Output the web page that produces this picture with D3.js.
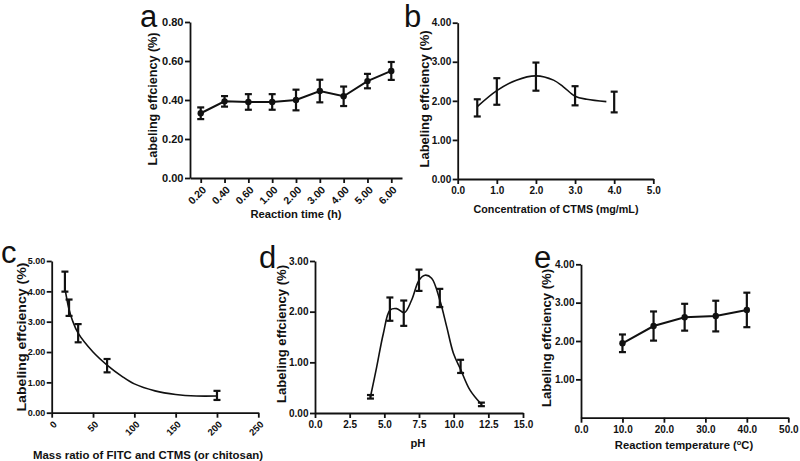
<!DOCTYPE html>
<html><head><meta charset="utf-8">
<script src="https://cdn.jsdelivr.net/npm/d3@7"></script>
<style>
body{margin:0;background:#fff}
svg text{font-family:"Liberation Sans",Arial,Helvetica,sans-serif;fill:#111}
</style>
</head><body>
<svg id="chart" width="800" height="461"></svg>
<script>
// ---------- Panel a : reaction time ----------
const timeCategories = ["0.20","0.40","0.60","1.00","2.00","3.00","4.00","5.00","6.00"];
const timeMeans      = [0.332,0.393,0.390,0.390,0.400,0.446,0.419,0.497,0.549];
const timeErrors     = [0.030,0.027,0.040,0.040,0.053,0.058,0.050,0.037,0.046];
const aYTicks        = [0,0.2,0.4,0.6,0.8];

// ---------- Panel b : CTMS concentration ----------
const concX      = [0.5,1.0,2.0,3.0,4.0];
const concMeans  = [1.82,2.24,2.62,2.13,1.97];
const concErrors = [0.22,0.34,0.36,0.245,0.265];
const concFitX   = [0.5,1.0,1.5,2.0,2.45,2.7,3.0,3.3,3.8];
const concFitY   = [1.85,2.26,2.53,2.64,2.53,2.36,2.12,2.04,1.98];
const bXTicks    = [0,1,2,3,4,5];
const bYTicks    = [0,1,2,3,4];

// ---------- Panel c : mass ratio ----------
const ratioX      = [16,21,32,67,200];
const ratioMeans  = [4.32,3.46,2.62,1.55,0.57];
const ratioErrors = [0.33,0.27,0.30,0.22,0.15];
const ratioFitX   = [16,21,25,32,50,67,85,100,125,150,175,200];
const ratioFitY   = [4.10,3.40,3.05,2.62,2.00,1.57,1.20,0.95,0.72,0.60,0.55,0.55];
const cXTicks     = [0,50,100,150,200,250];
const cYTicks     = [0,1,2,3,4,5];

// ---------- Panel d : pH ----------
const phX      = [4.0,5.4,6.4,7.5,9.0,10.5,12.0];
const phMeans  = [0.32,2.05,1.97,2.62,2.27,0.92,0.17];
const phErrors = [0.035,0.23,0.25,0.21,0.18,0.13,0.035];
const phFitX   = [4.0,4.45,4.93,5.41,5.89,6.44,6.97,7.5,7.93,8.41,9.0,9.5,9.98,10.5,11.18,11.97];
const phFitY   = [0.32,0.91,1.57,2.03,2.06,1.98,2.23,2.62,2.72,2.66,2.23,1.70,1.18,0.86,0.45,0.18];
const dXTicks  = [0,2.5,5,7.5,10,12.5,15];
const dYTicks  = [0,1,2,3];

// ---------- Panel e : temperature ----------
const tempX      = [10,17.5,25,32.5,40];
const tempMeans  = [1.94,2.39,2.62,2.65,2.81];
const tempErrors = [0.23,0.38,0.35,0.40,0.45];
const eXTicks    = [0,10,20,30,40,50];
const eYTicks    = [1,2,3,4];

const yTitleText = "Labeling effciency (%)";

const svg = d3.select("#chart");
const AXW = 1.8;

function yAxis(scale, xPos, ticks, fmt, fs){
  const g = svg.append("g").attr("transform",`translate(${xPos},0)`)
    .call(d3.axisLeft(scale).tickValues(ticks).tickFormat(fmt).tickSize(5).tickSizeOuter(0).tickPadding(1.5));
  g.select(".domain").attr("stroke","#111").attr("stroke-width",AXW);
  g.selectAll(".tick line").attr("stroke","#111").attr("stroke-width",AXW);
  g.selectAll(".tick text").attr("font-size",fs).attr("font-weight","bold").attr("fill","#111");
  return g;
}
function xAxis(scale, yPos, ticks, fmt, fs, rotate){
  const ax = d3.axisBottom(scale).tickSize(5).tickSizeOuter(0).tickPadding(3);
  if (ticks) ax.tickValues(ticks);
  if (fmt) ax.tickFormat(fmt);
  const g = svg.append("g").attr("transform",`translate(0,${yPos})`).call(ax);
  g.select(".domain").attr("stroke","#111").attr("stroke-width",AXW);
  g.selectAll(".tick line").attr("stroke","#111").attr("stroke-width",AXW);
  const t = g.selectAll(".tick text").attr("font-size",fs).attr("font-weight","bold").attr("fill","#111");
  if (rotate){
    t.attr("y",null).attr("x",null).attr("dy","0.35em")
     .attr("text-anchor","end").attr("transform","translate(3,10) rotate(-45)");
  }
  return g;
}
function errorBars(xs, means, errs, x, y, cap){
  const g = svg.append("g").attr("stroke","#111").attr("stroke-width",2.2).attr("fill","none");
  xs.forEach((xv,i)=>{
    const px = x(xv), top = y(means[i]+errs[i]), bot = y(means[i]-errs[i]);
    g.append("line").attr("x1",px).attr("x2",px).attr("y1",top).attr("y2",bot);
    g.append("line").attr("x1",px-cap).attr("x2",px+cap).attr("y1",top).attr("y2",top);
    g.append("line").attr("x1",px-cap).attr("x2",px+cap).attr("y1",bot).attr("y2",bot);
  });
}
function curve(xs, ys, x, y, smooth, w){
  const pts = xs.map((d,i)=>[d,ys[i]]);
  svg.append("path").datum(pts)
    .attr("d", d3.line().x(d=>x(d[0])).y(d=>y(d[1])).curve(smooth ? d3.curveCatmullRom.alpha(0.5) : d3.curveLinear))
    .attr("fill","none").attr("stroke","#111").attr("stroke-width",w);
}
function dots(xs, ys, x, y){
  svg.append("g").selectAll("circle").data(xs).join("circle")
    .attr("cx",d=>x(d)).attr("cy",(d,i)=>y(ys[i])).attr("r",3.2).attr("fill","#111");
}
function yTitle(cx, cy, fs, len){
  svg.append("text").attr("transform",`translate(${cx},${cy}) rotate(-90)`)
    .attr("text-anchor","middle").attr("dominant-baseline","central")
    .attr("font-size",fs).attr("font-weight","bold")
    .attr("textLength",len).attr("lengthAdjust","spacingAndGlyphs").text(yTitleText);
}
function xTitle(cx, by, fs, txt, len){
  const t = svg.append("text").attr("x",cx).attr("y",by).attr("text-anchor","middle")
    .attr("font-size",fs).attr("font-weight","bold").text(txt);
  if (len) t.attr("textLength",len).attr("lengthAdjust","spacingAndGlyphs");
  return t;
}
function panelLabel(x, y, txt){
  svg.append("text").attr("x",x).attr("y",y).attr("font-size",31).attr("font-weight","normal").text(txt);
}
const f2 = d3.format(".2f"), f1 = d3.format(".1f");

// ===== Panel a =====
{
  const x = d3.scalePoint().domain(timeCategories).range([190,402]).padding(0.45);
  const y = d3.scaleLinear().domain([0,0.8]).range([178,22]);
  xAxis(x, 178, null, null, 10.5, true);
  yAxis(y, 190, aYTicks, f2, 11);
  curve(timeCategories, timeMeans, x, y, false, 2);
  errorBars(timeCategories, timeMeans, timeErrors, x, y, 3.5);
  dots(timeCategories, timeMeans, x, y);
  yTitle(153, 99, 12, 133);
  xTitle(296, 218, 11.2, "Reaction time (h)", 91);
  panelLabel(140, 27, "a");
}
// ===== Panel b =====
{
  const x = d3.scaleLinear().domain([0,5]).range([457.7,653.3]);
  const y = d3.scaleLinear().domain([0,4]).range([179,22.7]);
  xAxis(x, 179, bXTicks, f1, 10);
  yAxis(y, 457.7, bYTicks, f2, 10);
  curve(concFitX, concFitY, x, y, true, 1.6);
  errorBars(concX, concMeans, concErrors, x, y, 3.5);
  yTitle(425, 99, 12, 137);
  xTitle(556, 213, 11.2, "Concentration of CTMS (mg/mL)", 165);
  panelLabel(404, 27, "b");
}
// ===== Panel c =====
{
  const x = d3.scaleLinear().domain([0,250]).range([51.7,258.3]);
  const y = d3.scaleLinear().domain([0,5]).range([412.7,261]);
  xAxis(x, 412.7, cXTicks, d3.format("d"), 9.5, true);
  yAxis(y, 51.7, cYTicks, f2, 9);
  curve(ratioFitX, ratioFitY, x, y, true, 1.6);
  errorBars(ratioX, ratioMeans, ratioErrors, x, y, 3.5);
  yTitle(22, 337, 12, 149);
  xTitle(148, 459, 11.2, "Mass ratio of FITC and CTMS (or chitosan)", 230);
  panelLabel(1, 263, "c");
}
// ===== Panel d =====
{
  const x = d3.scaleLinear().domain([0,15]).range([315,523]);
  const y = d3.scaleLinear().domain([0,3]).range([413,261]);
  xAxis(x, 413, dXTicks, f1, 10);
  yAxis(y, 315, dYTicks, f2, 10);
  curve(phFitX, phFitY, x, y, true, 1.6);
  errorBars(phX, phMeans, phErrors, x, y, 3.5);
  yTitle(281.5, 334, 12, 138);
  xTitle(418, 447, 11.2, "pH");
  panelLabel(259, 268, "d");
}
// ===== Panel e =====
{
  const x = d3.scaleLinear().domain([0,50]).range([581,788.3]);
  const y = d3.scaleLinear().domain([0,4]).range([417.7,264.3]);
  xAxis(x, 417.7, eXTicks, f1, 10);
  yAxis(y, 581, eYTicks, f2, 10);
  curve(tempX, tempMeans, x, y, false, 2);
  errorBars(tempX, tempMeans, tempErrors, x, y, 3.5);
  dots(tempX, tempMeans, x, y);
  yTitle(546.5, 338, 12, 138);
  const t = xTitle(684, 449, 11.2, "Reaction temperature (");
  t.append("tspan").attr("dy",-4).attr("font-size",7.5).text("o");
  t.append("tspan").attr("dy",4).text("C)");
  panelLabel(534, 268, "e");
}
</script>
</body></html>
